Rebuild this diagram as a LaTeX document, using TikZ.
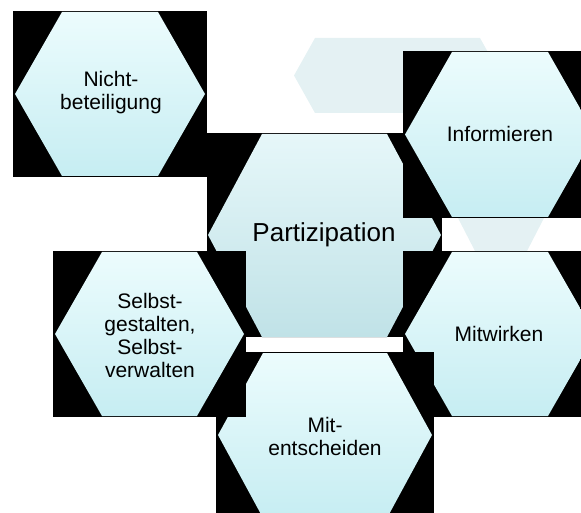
\documentclass[tikz,border=0pt]{standalone}
\usepackage{fontspec}
\setmainfont{Liberation Sans}
\definecolor{cellTop}{HTML}{ECFCFD}
\definecolor{cellBottom}{HTML}{C6EDF2}
\definecolor{hubTop}{HTML}{E6F7F9}
\definecolor{hubBottom}{HTML}{C0E2E7}
\definecolor{ghostFill}{HTML}{E4F1F3}
\begin{document}
\begin{tikzpicture}[x=1pt, y=-1pt,
    backing/.style={fill=black},
    cell/.style={top color=cellTop, bottom color=cellBottom},
    hub/.style={top color=hubTop, bottom color=hubBottom},
    ghost/.style={fill=ghostFill},
    caption/.style={align=center, text=black, inner sep=0pt,
      font=\fontsize{21}{23}\selectfont},
    hubcaption/.style={caption, font=\fontsize{26}{28}\selectfont}]
  % Pixel grid of the picture, y runs downward.
  \useasboundingbox (0,0) rectangle (581,513);
  % Faint shapes behind the cells.
  \fill[ghost] (294,75.5) -- (315,38) -- (480,38) -- (501,75.5) -- (480,113) -- (315,113) -- cycle;
  \fill[ghost] (451.3,205) -- (550.7,205) -- (522.4,260) -- (479.6,260) -- cycle;
  % Nichtbeteiligung
  \fill[backing] (13,11) rectangle (207,177);
  \fill[cell] (15,94) -- (62,12) -- (158,12) -- (205,94) -- (158,176) -- (62,176) -- cycle;
  \node[caption] (nicht) at (111,93) {Nicht-\\beteiligung};
  % Partizipation
  \fill[backing] (207,133) rectangle (442,337);
  \fill[hub] (208,235) -- (262,134) -- (387,134) -- (441,235) -- (387,337) -- (262,337) -- cycle;
  \node[hubcaption] (part) at (324,235) {Partizipation};
  % Informieren
  \fill[backing] (403,51) rectangle (597,218);
  \fill[cell] (405,134.5) -- (452,52) -- (548,52) -- (595,134.5) -- (548,217) -- (452,217) -- cycle;
  \node[caption] (info) at (500,134) {Informieren};
  % Mitwirken
  \fill[backing] (403,251) rectangle (597,417);
  \fill[cell] (405,334) -- (452,252) -- (548,252) -- (595,334) -- (548,416) -- (452,416) -- cycle;
  \node[caption] (mitwirk) at (499,334) {Mitwirken};
  % Mitentscheiden
  \fill[backing] (216,352) rectangle (434,520);
  \fill[cell] (218,435) -- (263,353) -- (387,353) -- (432,435) -- (387,518) -- (263,518) -- cycle;
  \node[caption] (mitent) at (325,436) {Mit-\\entscheiden};
  % Selbstgestalten, Selbstverwalten
  \fill[backing] (53,251) rectangle (246,417);
  \fill[cell] (55,334) -- (102,252) -- (197,252) -- (244,334) -- (197,416) -- (102,416) -- cycle;
  \node[caption] (selbst) at (150,335) {Selbst-\\gestalten,\\Selbst-\\verwalten};
\end{tikzpicture}
\end{document}
